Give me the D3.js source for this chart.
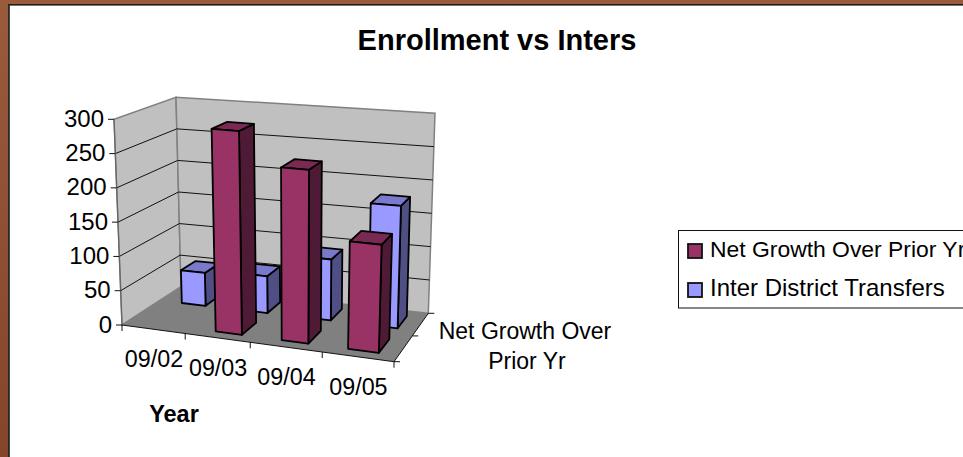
<!DOCTYPE html>
<html>
<head>
<meta charset="utf-8">
<script src="https://cdn.jsdelivr.net/npm/d3@7"></script>
<style>
  html, body { margin: 0; padding: 0; background: #fff; overflow: hidden; }
  text { font-family: "Liberation Sans", Arial, sans-serif; fill: #000; }
</style>
</head>
<body>
<div id="chart"></div>
<script>
const WIDTH = 963;
const HEIGHT = 457;

const title = "Enrollment vs Inters";
const categories = ["09/02", "09/03", "09/04", "09/05"];
const seriesNames = ["Net Growth Over Prior Yr", "Inter District Transfers"];
const netGrowth = [null, 292, 245, 150];
const interDistrict = [50, 55, 90, 178];
const valueTicks = [0, 50, 100, 150, 200, 250, 300];

const COLORS = {
  net: { front: "#993366", side: "#4f1a35", top: "#7a2952" },
  inter: { front: "#9999ff", side: "#4f4f85", top: "#7a7acc" }
};

const svg = d3.select("#chart").append("svg")
  .attr("width", WIDTH)
  .attr("height", HEIGHT)
  .style("display", "block");

// brown backdrop, the slide frame
const defs = svg.append("defs");
const grad = defs.append("linearGradient").attr("id", "wood")
  .attr("x1", 0).attr("y1", 0).attr("x2", 0).attr("y2", 1);
grad.append("stop").attr("offset", 0).attr("stop-color", "#9a5a3c");
grad.append("stop").attr("offset", 1).attr("stop-color", "#85452a");
svg.append("rect").attr("width", WIDTH).attr("height", HEIGHT).attr("fill", "url(#wood)");
svg.append("rect").attr("x", 9).attr("y", 4.8).attr("width", WIDTH).attr("height", HEIGHT)
  .attr("fill", "#fff").attr("stroke", "#1c1c1c").attr("stroke-width", 1.6);

// unit square -> quad, so the floor and ceiling of the box keep their perspective
function quadMap([p00, p10, p11, p01]) {
  const dx1 = p10[0] - p11[0], dx2 = p01[0] - p11[0], sx = p00[0] - p10[0] + p11[0] - p01[0];
  const dy1 = p10[1] - p11[1], dy2 = p01[1] - p11[1], sy = p00[1] - p10[1] + p11[1] - p01[1];
  const den = dx1 * dy2 - dx2 * dy1;
  const g = (sx * dy2 - dx2 * sy) / den;
  const h = (dx1 * sy - sx * dy1) / den;
  const a = p10[0] - p00[0] + g * p10[0], b = p01[0] - p00[0] + h * p01[0], c = p00[0];
  const d = p10[1] - p00[1] + g * p10[1], e = p01[1] - p00[1] + h * p01[1], f = p00[1];
  return (u, v) => {
    const w = g * u + h * v + 1;
    return [(a * u + b * v + c) / w, (d * u + e * v + f) / w];
  };
}

// corners: front-left, front-right, back-right, back-left
const floor = quadMap([[122, 325], [394, 361.7], [428.3, 313.3], [181, 286.7]]);
const ceiling = quadMap([[114, 119.3], [401, 142], [435, 113.3], [176, 97.3]]);

const x = d3.scaleBand().domain(categories).range([0, 1]);
const z = d3.scaleBand().domain(seriesNames).range([0, 1]);
const y = d3.scaleLinear().domain([0, 300]).range([0, 1]);

// the source has flatter perspective along x than the quad gives, these pull it back
const edgeWarp = d3.scaleLinear().domain([0, 0.25, 0.5, 0.75, 1]).range([0, 0.261, 0.51, 0.765, 1]);
const barWarp = d3.scaleLinear().domain([0, 0.4, 0.65, 0.9, 1]).range([0, 0.411, 0.657, 0.885, 1]);

function project(u, v, value) {
  const a = floor(u, v), b = ceiling(u, v), t = y(value);
  return [a[0] + (b[0] - a[0]) * t, a[1] + (b[1] - a[1]) * t];
}
const line = d3.line();
const face = pts => line(pts) + "Z";

// walls and floor
svg.append("path").attr("d", face([project(0, 0, 0), project(0, 1, 0), project(0, 1, 300), project(0, 0, 300)]))
  .attr("fill", "#c0c0c0").attr("stroke", "#808080").attr("stroke-width", 1.5);
svg.append("path").attr("d", face([project(0, 1, 0), project(1, 1, 0), project(1, 1, 300), project(0, 1, 300)]))
  .attr("fill", "#c0c0c0").attr("stroke", "#808080").attr("stroke-width", 1.5);
svg.append("path").attr("d", face([project(0, 0, 0), project(1, 0, 0), project(1, 1, 0), project(0, 1, 0)]))
  .attr("fill", "#808080");

// gridlines along left and back walls
valueTicks.filter(d => d > 0 && d < 300).forEach(d => {
  svg.append("path").attr("d", line([project(0, 0, d), project(0, 1, d), project(1, 1, d)]))
    .attr("fill", "none").attr("stroke", "#111").attr("stroke-width", 1);
});

// axes
const axisStroke = "#111";
svg.append("path").attr("d", line([project(0, 0, 300), project(0, 0, 0)]))
  .attr("fill", "none").attr("stroke", "#666").attr("stroke-width", 1.2);
svg.append("path").attr("d", line([project(0, 0, 0), project(1, 0, 0), project(1, 1, 0)]))
  .attr("fill", "none").attr("stroke", axisStroke).attr("stroke-width", 1);

valueTicks.forEach(d => {
  const p = project(0, 0, d);
  svg.append("line").attr("x1", p[0] - 6).attr("x2", p[0]).attr("y1", p[1]).attr("y2", p[1])
    .attr("stroke", axisStroke);
  svg.append("text").attr("x", p[0] - 10).attr("y", p[1] + 7.5)
    .attr("text-anchor", "end").attr("font-size", 24).text(d);
});

// ticks under the category axis, labels sit lower with the sloped edge
d3.range(categories.length + 1).forEach(i => {
  const p = project(edgeWarp(i / categories.length), 0, 0);
  svg.append("line").attr("x1", p[0]).attr("x2", p[0]).attr("y1", p[1]).attr("y2", p[1] + 6)
    .attr("stroke", axisStroke);
});
categories.forEach(c => {
  const p = project(edgeWarp(x(c) + x.bandwidth() / 2), 0, 0);
  svg.append("text").attr("x", p[0] + 1).attr("y", p[1] + 38)
    .attr("text-anchor", "middle").attr("font-size", 23.3).text(c);
});

// depth axis ticks
[0, 0.5, 1].forEach(v => {
  const p = project(1, v, 0);
  svg.append("line").attr("x1", p[0]).attr("x2", p[0] + 6).attr("y1", p[1]).attr("y2", p[1])
    .attr("stroke", axisStroke);
});

const depthLabel = svg.append("text").attr("text-anchor", "middle").attr("font-size", 23);
depthLabel.append("tspan").attr("x", 525).attr("y", 339).text("Net Growth Over");
depthLabel.append("tspan").attr("x", 527).attr("y", 369).text("Prior Yr");

svg.append("text").attr("x", 174).attr("y", 422).attr("text-anchor", "middle")
  .attr("font-size", 23.5).attr("font-weight", "bold").text("Year");

// bars, back series first and left to right
const BAR_LEFT = 0.38;  // share of the category band
const BAR_RIGHT = 0.78;
const BAR_Z = 0.23;

function drawBar(cat, seriesName, value, col) {
  if (value === null) return;
  const u0 = barWarp(x(cat) + x.bandwidth() * BAR_LEFT);
  const u1 = barWarp(x(cat) + x.bandwidth() * BAR_RIGHT);
  const v0 = z(seriesName) + z.bandwidth() * BAR_Z;
  const v1 = z(seriesName) + z.bandwidth() * (1 - BAR_Z);
  const g = svg.append("g").attr("stroke", "#000").attr("stroke-width", 1.8).attr("stroke-linejoin", "round");
  g.append("path").attr("fill", col.side)
    .attr("d", face([project(u1, v0, 0), project(u1, v1, 0), project(u1, v1, value), project(u1, v0, value)]));
  g.append("path").attr("fill", col.top)
    .attr("d", face([project(u0, v0, value), project(u1, v0, value), project(u1, v1, value), project(u0, v1, value)]));
  g.append("path").attr("fill", col.front)
    .attr("d", face([project(u0, v0, 0), project(u1, v0, 0), project(u1, v0, value), project(u0, v0, value)]));
}

categories.forEach((c, i) => drawBar(c, seriesNames[1], interDistrict[i], COLORS.inter));
categories.forEach((c, i) => drawBar(c, seriesNames[0], netGrowth[i], COLORS.net));

// title
svg.append("text").attr("x", 497).attr("y", 50).attr("text-anchor", "middle")
  .attr("font-size", 29).attr("font-weight", "bold").text(title);

// legend, runs off the right of the frame as in the source
const legend = svg.append("g");
legend.append("rect").attr("x", 678.5).attr("y", 230.5).attr("width", 320).attr("height", 77.5)
  .attr("fill", "#fff").attr("stroke", "#111").attr("stroke-width", 1);
const legendRows = [
  { name: seriesNames[0], col: COLORS.net.front, ty: 257, size: 22.9 },
  { name: seriesNames[1], col: COLORS.inter.front, ty: 296, size: 24 }
];
legendRows.forEach(r => {
  legend.append("rect").attr("x", 688).attr("y", r.ty - 13).attr("width", 14).attr("height", 14)
    .attr("fill", r.col).attr("stroke", "#111").attr("stroke-width", 1.8);
  legend.append("text").attr("x", 710).attr("y", r.ty).attr("font-size", r.size).text(r.name);
});
</script>
</body>
</html>
